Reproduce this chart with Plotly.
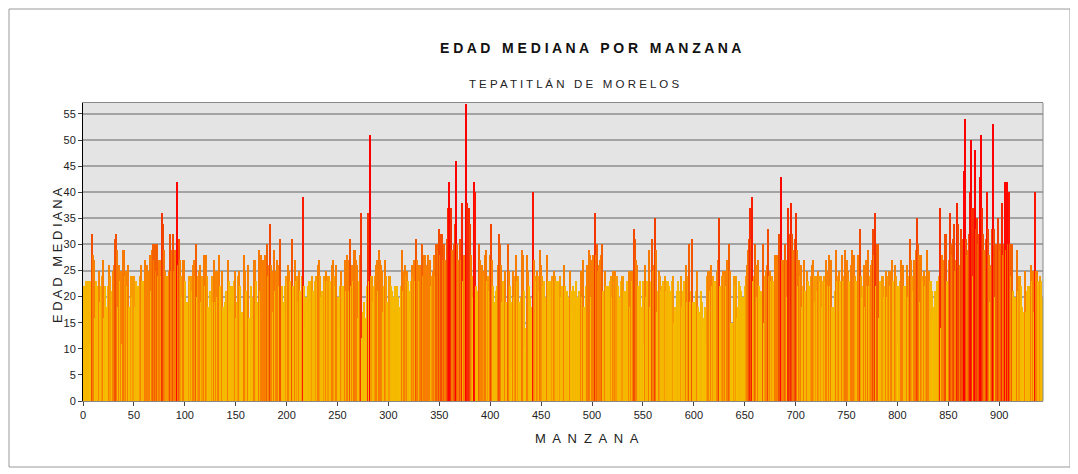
import plotly.graph_objects as go

# Median age per block (manzana) in segments
seg01 = [22,22,23,21,23,23,11,23,32,28,27,16,23,22,18,25,19,22,24,27,16,22,18,15,22,26,24,21,25,26,
         31,32,29,18,26,23,25,11,29,29,24,25,22,26,18,18,24,20,24,24,18,23,18,22,22,24,26,23,23,23,
         27,25,26,25,25,28,21,29,30,27,30,25,30,24,27,27,24,36,34]
seg02 = [29,25,24,24,25,32,25,29,32,25,29,27,42,26,31,27,24,20,27,27,23,18,19,19,24,23,24,21,26,27,
         24,30,20,24,25,26,19,24,24,28,22,28,24,18,18,21,17,24,19,27,19,25,20,25,28,22,20,25,18,19,
         21,19,27,23,17,22,22,21,23,25,16,19,24,25,22,16,17,14]
seg03 = [28,25,21,18,26,16,11,22,20,19,27,27,23,16,19,29,21,28,25,27,27,28,26,30,24,26,34,26,25,17,
         29,21,25,27,26,22,31,22,18,19,22,24,23,26,25,23,21,31,22,19,27,23,24,19,25,21,18,24,39,22,
         14,20,17,22,23,19,23,24,21,21,23,24,23,26,27,24,20,21,17]
seg04 = [24,23,25,23,24,24,23,22,26,27,24,22,26,20,14,22,25,22,22,19,27,21,28,27,21,31,22,26,23,29,
         29,27,26,16,23,28,36,12,17,19,16,16,22,36,23,51,24,24,19,22,24,26,27,21,29,27,26,25,17,22,
         27,24,19,19,24,24,22,21,20,22,20,22,20,18,17,22,29,21]
seg05 = [25,26,24,25,23,21,16,23,26,24,27,23,31,27,26,23,26,26,30,24,28,28,26,26,28,25,27,22,24,25,
         28,24,30,30,29,33,28,32,32,27,30,27,26,31,37,42,37,29,26,30,34,46,30,27,27,31,27,38,23,28,
         25,57,38,37,37,34,28,24,20,42,40,22,21,20,30,27,25,26,25]
seg06 = [24,28,29,23,24,21,28,34,27,22,19,19,21,22,26,32,30,26,19,23,22,25,19,30,25,22,19,6,25,20,
         24,28,23,24,19,19,20,29,28,21,10,14,28,25,22,20,18,16,40,27,24,23,25,24,21,29,26,24,22,23,
         19,20,28,23,23,19,23,24,23,25,24,23,21,23,20,24,20,22]
seg07 = [26,22,20,21,20,15,25,21,17,22,21,20,23,20,20,21,21,25,20,27,18,14,22,26,26,29,28,20,27,28,
         28,36,28,30,25,26,27,28,30,21,21,25,22,22,22,19,23,24,20,25,24,25,24,24,22,20,23,24,24,21,
         21,20,23,19,25,18,25,23,25,33,31,27,26,22,19,23,18,15,23]
seg08 = [11,26,20,23,23,29,18,23,31,25,26,35,29,17,21,25,24,21,22,23,23,24,21,23,23,22,21,20,23,24,
         15,18,21,23,21,18,24,18,21,23,21,26,19,24,30,19,21,31,19,18,19,21,25,18,17,17,21,19,14,16,
         18,11,24,25,25,21,26,22,24,23,23,21,25,27,35,22,21,24]
seg09 = [25,24,25,22,27,25,30,25,15,15,24,22,24,16,18,23,22,21,19,20,19,22,24,26,29,31,37,31,39,23,
         24,30,26,20,27,22,21,21,18,30,15,24,25,26,33,24,25,23,24,23,23,28,27,28,26,32,31,43,27,25,
         27,30,27,20,37,32,38,32,29,29,31,36,29,22,27,24,26,18,22]
seg10 = [27,21,21,25,23,22,22,24,26,27,24,19,24,21,25,24,23,24,18,23,24,23,27,25,22,28,22,27,18,18,
         15,21,29,23,24,25,23,19,28,23,24,29,27,25,23,22,26,29,26,28,24,23,22,28,25,33,24,20,22,26,
         18,27,22,29,22,24,26,27,33,28,36,22,30,30,16,23,21,24]
seg11 = [24,20,22,25,20,24,25,22,25,27,23,18,26,24,22,11,22,23,27,26,22,22,21,26,20,24,31,27,24,21,
         27,27,29,35,30,28,19,28,24,23,25,22,24,29,25,25,23,23,21,15,18,21,20,23,20,24,37,14,28,25,
         27,32,32,23,22,27,36,30,28,31,34,25,27,38,34,26,33,31,31]
seg12 = [44,54,31,28,29,32,40,50,37,24,37,48,33,35,30,32,43,51,37,32,29,25,31,40,33,28,19,26,33,53,
         33,20,30,30,35,30,29,30,38,28,30,42,29,42,30,40,30,24,30,21,20,20,29,21,24,24,22,18,17,17,
         25,17,21,22,19,22,26,23,25,17,40,25,25,23,20,24,23,20]

edad = (seg01 + seg02 + seg03 + seg04 + seg05 + seg06 + seg07 + seg08 + seg09 + seg10 + seg11 + seg12)
manzana = list(range(1, len(edad) + 1))

x_ticks = list(range(0, 901, 50))
y_ticks = list(range(0, 56, 5))

# value -> colour, normalised on [10, 45]
colorscale = [
    [0.0, "#F5C400"],
    [0.37, "#F5B600"],
    [0.40, "#F69A00"],
    [0.43, "#F78200"],
    [0.54, "#F77A00"],
    [0.58, "#F35800"],
    [0.70, "#F24200"],
    [0.80, "#F82400"],
    [0.90, "#FF0800"],
    [1.0, "#FF0000"],
]

FONT = "Liberation Sans, Arial, sans-serif"

fig = go.Figure(go.Bar(
    x=manzana, y=edad,
    marker=dict(color=edad, colorscale=colorscale, cmin=10, cmax=45, line=dict(width=0)),
    hoverinfo="x+y",
))

def spaced(s, gap=" ", wordgap="   "):
    words = s.split(" ")
    return wordgap.join(gap.join(list(w)) for w in words)

# page body has an 8px margin: figure is 1070x466 placed at (8, 8)
PL, PT = 83 - 8, 103 - 8          # plot-area left/top inside figure
W, H = 1070, 466
PW, PH = 960, 298

def px(xp):   # page x -> paper x
    return (xp - 83) / PW

def py(yp):   # page y -> paper y
    return (401 - yp) / PH

fig.update_layout(
    width=W, height=H,
    margin=dict(l=PL, r=W - PL - PW, t=PT, b=H - PT - PH),
    paper_bgcolor="white",
    plot_bgcolor="#E4E4E4",
    bargap=0,
    showlegend=False,
    font=dict(family=FONT, size=11, color="#222"),
    xaxis=dict(
        range=[0, 943], tickvals=x_ticks, ticks="outside", ticklen=4, tickcolor="#444",
        showgrid=False, zeroline=False, showline=True, linecolor="#888", linewidth=1, mirror=True,
        tickfont=dict(family=FONT, size=11, color="#222"),
    ),
    yaxis=dict(
        range=[0, 57.1], tickvals=y_ticks, ticks="outside", ticklen=4, tickcolor="#444",
        showgrid=True, gridcolor="#A3A3A3", gridwidth=1.5, zeroline=False,
        showline=True, linecolor="#000", linewidth=1,
        tickfont=dict(family=FONT, size=11, color="#222"),
    ),
    annotations=[
        dict(text="<b>" + spaced("EDAD MEDIANA POR MANZANA") + "</b>", xref="paper", yref="paper",
             x=px(590), y=py(48), xanchor="center", yanchor="middle", showarrow=False,
             font=dict(family=FONT, size=14, color="#111")),
        dict(text=spaced("TEPATITLÁN DE MORELOS"), xref="paper", yref="paper",
             x=px(574), y=py(84), xanchor="center", yanchor="middle", showarrow=False,
             font=dict(family=FONT, size=11.5, color="#222")),
        dict(text=spaced("MANZANA", gap="  "), xref="paper", yref="paper",
             x=px(587), y=py(438), xanchor="center", yanchor="middle", showarrow=False,
             font=dict(family=FONT, size=13, color="#222")),
        dict(text=spaced("EDAD MEDIANA"), xref="paper", yref="paper",
             x=px(57), y=py(256), xanchor="center", yanchor="middle",
             showarrow=False, textangle=-90,
             font=dict(family=FONT, size=13, color="#222")),
    ],
    shapes=[
        dict(type="rect", xref="paper", yref="paper",
             x0=px(9), x1=px(1070), y0=py(467), y1=py(9),
             line=dict(color="#9A9A9A", width=1), fillcolor="rgba(0,0,0,0)", layer="below"),
        dict(type="line", xref="paper", yref="paper", x0=1, x1=1, y0=0, y1=1,
             line=dict(color="#888", width=1)),
    ],
)

fig.write_html("out.html")
